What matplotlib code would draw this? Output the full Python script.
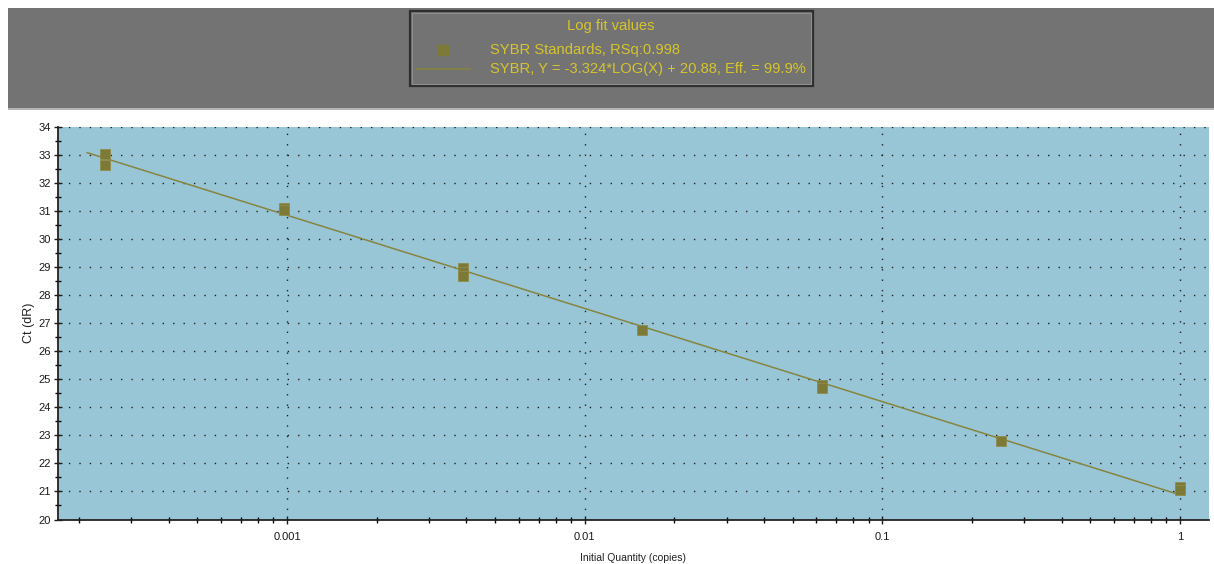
import matplotlib as mpl
import matplotlib.pyplot as plt
from matplotlib.patches import Rectangle
from matplotlib.lines import Line2D
import numpy as np

mpl.use('agg')
plt.rcParams['font.family'] = ['Liberation Sans', 'DejaVu Sans']

# standards (4-fold dilution series) and their Ct values
quantity = [0.000244, 0.000244, 0.000977, 0.000977,
            0.00391, 0.00391, 0.00391, 0.0156,
            0.0625, 0.0625, 0.25, 1.0, 1.0]
ct = [33.04, 32.64, 31.12, 31.05,
      28.98, 28.82, 28.70, 26.77,
      24.80, 24.70, 22.80, 21.15, 21.05]

# fit: Y = slope*LOG(X) + intercept
slope = -3.324
intercept = 20.88
fit_range = [0.000213, 1.0]

x_ticks = [0.001, 0.01, 0.1, 1]
x_ticklabels = ['0.001', '0.01', '0.1', '1']
y_ticks = list(range(20, 35))

title_text = 'Log fit values'
label_points = 'SYBR Standards, RSq:0.998'
label_fit = 'SYBR, Y = -3.324*LOG(X) + 20.88, Eff. = 99.9%'

W, H = 1214, 564
TXT = '#d6c42c'
PT_COL = '#7d7a38'
LN_COL = '#86853f'

fig = plt.figure(figsize=(W / 100, H / 100), dpi=100)

def fx(px):
    return px / W

def fy(py):
    return 1 - py / H

# grey header band
fig.patches.append(Rectangle((fx(8), fy(108)), 1 - fx(8), 100 / H,
                             transform=fig.transFigure, facecolor='#737373',
                             edgecolor='none', zorder=0))
fig.patches.append(Rectangle((fx(8), fy(109.5)), 1 - fx(8), 1.5 / H,
                             transform=fig.transFigure, facecolor='#b5b5b5',
                             edgecolor='none', zorder=0))

ax = fig.add_axes([fx(58), fy(519.5), (1209 - 58) / W, (519.5 - 127) / H])
ax.set_facecolor('#99c6d6')
ax.set_xscale('log')
ax.set_xlim(1.70e-4, 1.252)
ax.set_ylim(20, 34)

xs = np.array(fit_range)
ax.plot(xs, slope * np.log10(xs) + intercept, color=LN_COL, lw=1.1, zorder=3)
ax.plot(quantity, ct, 's', ms=6.6, color=PT_COL, mec='#8f8c4c', mew=0.6,
        linestyle='none', zorder=4)

ax.set_xticks(x_ticks)
ax.set_xticklabels(x_ticklabels)
ax.set_yticks(y_ticks)
ax.set_yticks(np.arange(20.5, 34, 1), minor=True)
ax.xaxis.set_minor_locator(mpl.ticker.LogLocator(base=10, subs=np.arange(2, 10)))
ax.xaxis.set_minor_formatter(mpl.ticker.NullFormatter())

ax.tick_params(axis='both', which='major', direction='inout', length=6, width=1,
               labelsize=8, colors='#1a1a1a', pad=2)
ax.tick_params(axis='both', which='minor', direction='inout', length=4, width=1)
ax.tick_params(axis='x', which='major', pad=6)

ax.grid(True, which='major', color='#202020', linestyle=(0, (1, 6.5)), lw=1)

for s in ['top', 'right']:
    ax.spines[s].set_visible(False)
for s in ['left', 'bottom']:
    ax.spines[s].set_color('#222222')
    ax.spines[s].set_linewidth(1.3)

ax.set_xlabel('Initial Quantity (copies)', fontsize=7.5, color='#222222', labelpad=8)
ax.set_ylabel('Ct (dR)', fontsize=9, color='#222222', labelpad=2.5)

# legend box in the header
fig.patches.append(Rectangle((fx(410), fy(86)), (813 - 410) / W, 75 / H,
                             transform=fig.transFigure, facecolor='#737373',
                             edgecolor='#2e2e2e', lw=1.6, zorder=1))
fig.patches.append(Rectangle((fx(412), fy(84)), (809 - 410) / W, 71 / H,
                             transform=fig.transFigure, facecolor='none',
                             edgecolor='#8e8e8e', lw=0.8, zorder=1))
fig.text(fx(611), fy(26), title_text, color=TXT, fontsize=10.6,
         ha='center', va='center')
fig.lines.append(Line2D([fx(443)], [fy(50)], marker='s', ms=6.6, color=PT_COL,
                        linestyle='none', transform=fig.transFigure))
fig.text(fx(490), fy(50), label_points, color=TXT, fontsize=10.6,
         ha='left', va='center')
fig.lines.append(Line2D([fx(416), fx(470)], [fy(69), fy(69)], color=LN_COL,
                        lw=1.1, transform=fig.transFigure))
fig.text(fx(490), fy(69), label_fit, color=TXT, fontsize=10.6,
         ha='left', va='center')

fig.savefig('out.png', dpi=100)
